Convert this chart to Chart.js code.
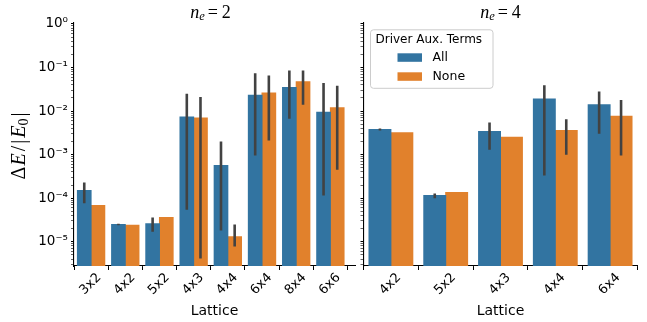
<!DOCTYPE html>
<html>
<head>
<meta charset="utf-8">
<script src="https://cdn.jsdelivr.net/npm/chart.js@4.4.1/dist/chart.umd.min.js"></script>
<style>
body { margin: 0; background: #fff; }
#wrap { position: relative; width: 647px; height: 322px; }
canvas { position: absolute; top: 0; }
</style>
</head>
<body>
<div id="wrap">
  <canvas id="chartNe2" width="358" height="322" style="left:0;width:358px;height:322px"></canvas>
  <canvas id="chartNe4" width="289" height="322" style="left:358px;width:289px;height:322px"></canvas>
</div>
<script>
// n_e = 2 panel
var latticeNe2 = ["3x2", "4x2", "5x2", "4x3", "4x4", "6x4", "8x4", "6x6"];
var allNe2 = [1.5e-4, 2.5e-5, 2.6e-5, 7.3e-3, 5.6e-4, 2.3e-2, 3.5e-2, 9.4e-3];
var allNe2Lo = [7.6e-5, 2.4e-5, 1.7e-5, 5.4e-5, 1.8e-5, 9.6e-4, 6.7e-3, 1.15e-4];
var allNe2Hi = [2.3e-4, 2.6e-5, 3.6e-5, 2.5e-2, 2.0e-3, 7.4e-2, 8.6e-2, 4.4e-2];
var noneNe2 = [6.8e-5, 2.4e-5, 3.6e-5, 6.9e-3, 1.3e-5, 2.6e-2, 4.7e-2, 1.2e-2];
var noneNe2Lo = [null, null, null, 4.1e-6, 7.8e-6, 2.1e-3, 1.4e-2, 4.5e-4];
var noneNe2Hi = [null, null, null, 2.1e-2, 2.5e-5, 6.6e-2, 8.6e-2, 3.8e-2];

// n_e = 4 panel
var latticeNe4 = ["4x2", "5x2", "4x3", "4x4", "6x4"];
var allNe4 = [3.8e-3, 1.15e-4, 3.4e-3, 1.9e-2, 1.4e-2];
var allNe4Lo = [3.6e-3, 1.0e-4, 1.3e-3, 3.3e-4, 3.0e-3];
var allNe4Hi = [4.0e-3, 1.28e-4, 5.5e-3, 3.9e-2, 2.8e-2];
var noneNe4 = [3.2e-3, 1.35e-4, 2.5e-3, 3.6e-3, 7.6e-3];
var noneNe4Lo = [null, null, null, 1.0e-3, 9.6e-4];
var noneNe4Hi = [null, null, null, 6.5e-3, 1.8e-2];

var seriesNames = ["All", "None"];
var legendTitle = "Driver Aux. Terms";
var yMin = 2.77e-6, yMax = 1.094;

var BLUE = "#3274a1", ORANGE = "#e1812c", ERR = "#424242";
Chart.defaults.font.family = "'DejaVu Sans', sans-serif";
Chart.defaults.color = "#000";

var SUP = { "-": "\u207b", "0": "\u2070", "1": "\u00b9", "2": "\u00b2", "3": "\u00b3",
  "4": "\u2074", "5": "\u2075", "6": "\u2076", "7": "\u2077", "8": "\u2078", "9": "\u2079" };
function powLabel(v) {
  var e = String(Math.round(Math.log10(v)));
  return "10" + e.split("").map(function (c) { return SUP[c]; }).join("");
}

function logTicks(scale) {
  var t = [];
  for (var e = -6; e <= 0; e++) {
    for (var m = 1; m <= 9; m++) {
      var v = m * Math.pow(10, e);
      if (v >= yMin && v <= yMax) t.push({ value: v, major: m === 1 });
    }
  }
  scale.ticks = t;
}

function barData(vals) {
  return vals.map(function (v, i) { return { x: i, y: v }; });
}

// draw text made of several runs (font switches) centred on cx, cy
function drawRuns(ctx, runs, cx, cy) {
  var w = 0;
  runs.forEach(function (r) { ctx.font = r.f; w += ctx.measureText(r.t).width + (r.sp || 0); });
  var x = cx - w / 2;
  ctx.textBaseline = "middle";
  ctx.textAlign = "left";
  runs.forEach(function (r) {
    ctx.font = r.f;
    ctx.fillText(r.t, x, cy + (r.dy || 0));
    x += ctx.measureText(r.t).width + (r.sp || 0);
  });
}

var errorBars = {
  id: "errorBars",
  afterDatasetsDraw: function (chart) {
    var ctx = chart.ctx, y = chart.scales.y, area = chart.chartArea;
    ctx.save();
    ctx.beginPath();
    ctx.rect(area.left, area.top, area.right - area.left, area.bottom - area.top);
    ctx.clip();
    ctx.strokeStyle = ERR;
    ctx.lineWidth = 2.6;
    chart.data.datasets.forEach(function (ds, i) {
      chart.getDatasetMeta(i).data.forEach(function (bar, j) {
        if (ds.errLo[j] == null) return;
        ctx.beginPath();
        ctx.moveTo(bar.x, y.getPixelForValue(ds.errLo[j]));
        ctx.lineTo(bar.x, y.getPixelForValue(ds.errHi[j]));
        ctx.stroke();
      });
    });
    ctx.restore();
  }
};

var panelTitle = {
  id: "panelTitle",
  afterDraw: function (chart, args, opts) {
    var ctx = chart.ctx;
    ctx.save();
    ctx.fillStyle = "#000";
    drawRuns(ctx, [
      { t: "n", f: "italic 18px 'Liberation Serif'" },
      { t: "e", f: "italic 12.5px 'Liberation Serif'", dy: 4, sp: 3 },
      { t: "=", f: "18px 'Liberation Serif'", sp: 4 },
      { t: String(opts.ne), f: "18px 'Liberation Serif'" }
    ], opts.cx, 13);
    if (opts.ylabel) {
      ctx.translate(20, 146);
      ctx.rotate(-Math.PI / 2);
      drawRuns(ctx, [
        { t: "\u0394", f: "20px 'Liberation Serif'", sp: 1 },
        { t: "E", f: "italic 20px 'Liberation Serif'", sp: 2 },
        { t: "/", f: "20px 'Liberation Serif'", sp: 2 },
        { t: "|", f: "20px 'Liberation Serif'", sp: 2 },
        { t: "E", f: "italic 20px 'Liberation Serif'" },
        { t: "0", f: "14px 'Liberation Serif'", dy: 4, sp: 2 },
        { t: "|", f: "20px 'Liberation Serif'" }
      ], 0, 0);
    }
    ctx.restore();
  }
};

var boxLegend = {
  id: "boxLegend",
  afterDraw: function (chart, args, opts) {
    if (!opts.show) return;
    var ctx = chart.ctx, a = chart.chartArea;
    var bx = a.left + 6.5, by = a.top + 7, bw = 122.5, bh = 58.5, r = 3;
    ctx.save();
    ctx.beginPath();
    ctx.roundRect(bx + 0.5, by + 0.5, bw, bh, r);
    ctx.fillStyle = "rgba(255,255,255,0.8)";
    ctx.fill();
    ctx.strokeStyle = "#cccccc";
    ctx.lineWidth = 1;
    ctx.stroke();
    ctx.fillStyle = "#000";
    ctx.font = "12px 'DejaVu Sans'";
    ctx.textBaseline = "middle";
    ctx.textAlign = "left";
    ctx.fillText(legendTitle, bx + 5.5, by + 10.5);
    var cols = [BLUE, ORANGE];
    for (var i = 0; i < seriesNames.length; i++) {
      var yy = by + 24 + i * 19;
      ctx.fillStyle = cols[i];
      ctx.fillRect(bx + 27.5, yy, 24.5, 8.5);
      ctx.fillStyle = "#000";
      ctx.font = "12.5px 'DejaVu Sans'";
      ctx.fillText(seriesNames[i], bx + 62.5, yy + 4.5);
    }
    ctx.restore();
  }
};

function makePanel(canvasId, cats, all, allLo, allHi, none, noneLo, noneHi, cfg) {
  var ctx = document.getElementById(canvasId).getContext("2d");
  return new Chart(ctx, {
    type: "bar",
    data: {
      datasets: [{
        label: seriesNames[0],
        backgroundColor: BLUE,
        data: barData(all),
        errLo: allLo,
        errHi: allHi,
      }, {
        label: seriesNames[1],
        backgroundColor: ORANGE,
        data: barData(none),
        errLo: noneLo,
        errHi: noneHi,
      }],
    },
    options: {
      responsive: false,
      animation: false,
      devicePixelRatio: 1,
      categoryPercentage: 0.8,
      barPercentage: 1.0,
      inflateAmount: 0.5,
      layout: { padding: { top: 22.3, right: cfg.padRight, left: 0, bottom: 0 } },
      plugins: {
        legend: { display: false },
        tooltip: { enabled: false },
        panelTitle: { ne: cfg.ne, cx: cfg.titleX, ylabel: cfg.ylabel },
        boxLegend: { show: cfg.legend },
      },
      scales: {
        x: {
          type: "linear",
          min: -0.5,
          max: cfg.xMax,
          offset: false,
          afterBuildTicks: function (scale) {
            scale.ticks = cats.map(function (c, i) { return { value: i }; });
          },
          afterFit: function (scale) { scale.height = 56; },
          ticks: {
            autoSkip: false,
            minRotation: 45,
            maxRotation: 45,
            labelOffset: 8,
            padding: 0,
            font: { size: 13 },
            callback: function (v) { return cats[v]; },
          },
          grid: { drawOnChartArea: false, drawTicks: true, tickLength: 4, tickColor: "#000" },
          border: { color: "#000", width: 1.1 },
          title: { display: true, text: "Lattice", font: { size: 14 }, padding: { top: 0, bottom: 2 } },
        },
        y: {
          type: "logarithmic",
          min: yMin,
          max: yMax,
          afterBuildTicks: logTicks,
          afterFit: function (scale) { scale.width = cfg.yWidth; },
          ticks: {
            autoSkip: false,
            padding: 3,
            font: { size: 13.5 },
            callback: function (v, i, ticks) {
              return cfg.ylabels && ticks[i].major ? powLabel(v) : "";
            },
          },
          grid: {
            drawOnChartArea: false,
            drawTicks: true,
            tickLength: 3,
            tickColor: "#000",
            tickWidth: function (c) { return c.tick && c.tick.major ? 1 : 0.6; },
          },
          border: { color: "#000", width: 1.1 },
        },
      },
    },
    plugins: [errorBars, panelTitle, boxLegend],
  });
}

var chart1 = makePanel("chartNe2", latticeNe2, allNe2, allNe2Lo, allNe2Hi, noneNe2, noneNe2Lo, noneNe2Hi,
  { ne: 2, titleX: 210.5, ylabel: true, ylabels: true, legend: false, xMax: 7.72, yWidth: 74, padRight: 3 });
var chart2 = makePanel("chartNe4", latticeNe4, allNe4, allNe4Lo, allNe4Hi, noneNe4, noneNe4Lo, noneNe4Hi,
  { ne: 4, titleX: 142.5, ylabel: false, ylabels: false, legend: true, xMax: 4.5, yWidth: 5.5, padRight: 9.5 });
</script>
</body>
</html>
